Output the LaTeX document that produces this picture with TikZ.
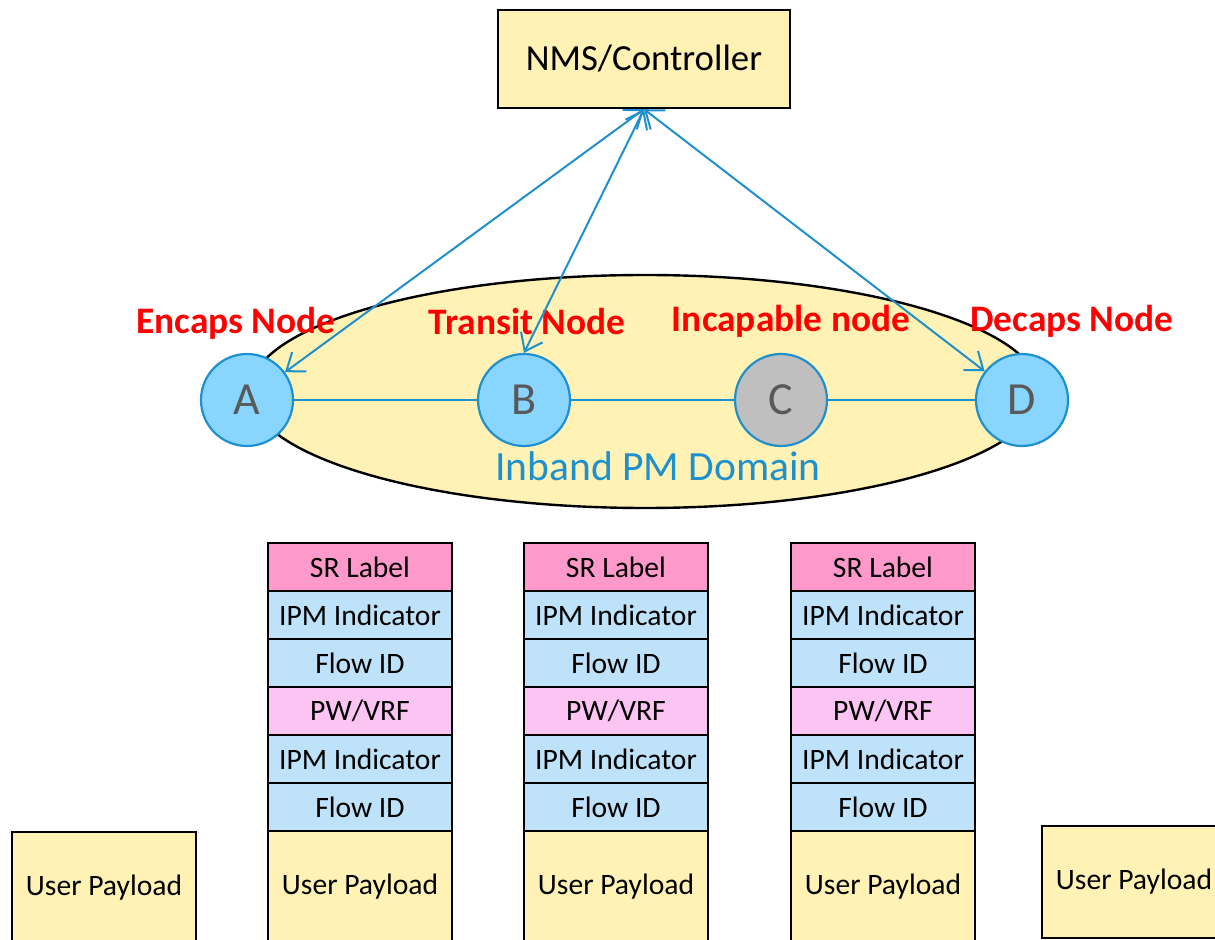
\documentclass[tikz,border=0pt]{standalone}
\usepackage{fontspec}
\setmainfont{Carlito}
\usetikzlibrary{arrows.meta, positioning}
\definecolor{paleyellow}{RGB}{255,242,180}
\definecolor{linkblue}{RGB}{30,144,206}
\definecolor{nodeblue}{RGB}{136,214,255}
\definecolor{nodegray}{RGB}{191,191,191}
\definecolor{srpink}{RGB}{255,153,204}
\definecolor{pwpink}{RGB}{252,196,242}
\definecolor{fieldblue}{RGB}{190,226,250}
\definecolor{textgray}{RGB}{89,89,89}
\tikzset{
    box/.style={draw, line width=1pt, inner sep=0pt, outer sep=0pt, minimum width=92pt, font=\fontsize{14.8}{16}\selectfont},
    field/.style={box, minimum height=24pt},
    payload/.style={box, fill=paleyellow, minimum height=56pt},
    pmnode/.style={circle, draw=linkblue, line width=1.1pt, minimum size=46pt, inner sep=0pt, text=textgray, font=\fontsize{23}{26}\selectfont},
    role/.style={text=red, font=\bfseries\fontsize{18.7}{20}\selectfont},
    duplex/.style={linkblue, line width=1pt, {Straight Barb[length=8pt,width=12pt]}-{Straight Barb[length=8pt,width=12pt]}}
}

\begin{document}
\begin{tikzpicture}[x=0.5pt, y=0.5pt]
        \useasboundingbox (0,0) rectangle (1215,-940);
        \clip (0,0) rectangle (1215,-940);

        % domain
        \draw[line width=1.2pt, fill=paleyellow] (645,-391.5) ellipse [x radius=395, y radius=116.5];
        \node[text=linkblue, font=\fontsize{20.8}{23}\selectfont] (domain) at (658,-466) {Inband PM Domain};

        \node[draw, line width=1.2pt, fill=paleyellow, minimum width=146pt, minimum height=49pt, font=\fontsize{18.4}{20}\selectfont] (nms) at (644,-59) {NMS/Controller};

        \node[pmnode, fill=nodeblue] (A) at (247,-400) {A};
        \node[pmnode, fill=nodeblue] (B) at (524,-400) {B};
        \node[pmnode, fill=nodegray] (C) at (781,-400) {C};
        \node[pmnode, fill=nodeblue] (D) at (1022,-400) {D};

        \node[role] (encaps) at (236,-323) {Encaps Node};
        \node[role] (transit) at (527,-322) {Transit Node};
        \node[role] (incapable) at (791,-321) {Incapable node};
        \node[role] (decaps) at (1072,-321) {Decaps Node};

        \draw[linkblue, line width=1pt] (A) -- (B) -- (C) -- (D);
        \draw[duplex] (nms.south) -- (A);
        \draw[duplex] (nms.south) -- (B.north);
        \draw[duplex] (nms.south) -- (D);

        % label stacks
        \node[field, fill=srpink] (sr1) at (360,-567) {SR Label};
        \node[field, fill=fieldblue, below=0pt of sr1] (ipma1) {IPM Indicator};
        \node[field, fill=fieldblue, below=0pt of ipma1] (flowa1) {Flow ID};
        \node[field, fill=pwpink, below=0pt of flowa1] (pw1) {PW/VRF};
        \node[field, fill=fieldblue, below=0pt of pw1] (ipmb1) {IPM Indicator};
        \node[field, fill=fieldblue, below=0pt of ipmb1] (flowb1) {Flow ID};
        \node[payload, below=0pt of flowb1] (pay1) {User Payload};

        \node[field, fill=srpink] (sr2) at (616,-567) {SR Label};
        \node[field, fill=fieldblue, below=0pt of sr2] (ipma2) {IPM Indicator};
        \node[field, fill=fieldblue, below=0pt of ipma2] (flowa2) {Flow ID};
        \node[field, fill=pwpink, below=0pt of flowa2] (pw2) {PW/VRF};
        \node[field, fill=fieldblue, below=0pt of pw2] (ipmb2) {IPM Indicator};
        \node[field, fill=fieldblue, below=0pt of ipmb2] (flowb2) {Flow ID};
        \node[payload, below=0pt of flowb2] (pay2) {User Payload};

        \node[field, fill=srpink] (sr3) at (883,-567) {SR Label};
        \node[field, fill=fieldblue, below=0pt of sr3] (ipma3) {IPM Indicator};
        \node[field, fill=fieldblue, below=0pt of ipma3] (flowa3) {Flow ID};
        \node[field, fill=pwpink, below=0pt of flowa3] (pw3) {PW/VRF};
        \node[field, fill=fieldblue, below=0pt of pw3] (ipmb3) {IPM Indicator};
        \node[field, fill=fieldblue, below=0pt of ipmb3] (flowb3) {Flow ID};
        \node[payload, below=0pt of flowb3] (pay3) {User Payload};

        \node[payload] (payin) at (104,-888) {User Payload};
        \node[payload] (payout) at (1134,-882) {User Payload};
\end{tikzpicture}
\end{document}
